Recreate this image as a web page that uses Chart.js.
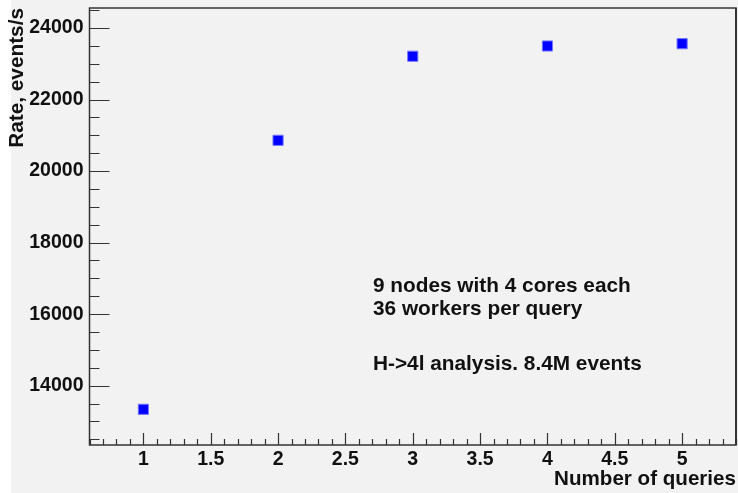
<!DOCTYPE html>
<html>
<head>
<meta charset="utf-8">
<script src="https://cdn.jsdelivr.net/npm/chart.js@4"></script>
<style>
    html, body { margin: 0; padding: 0; background: #fff; }
    #wrap { width: 738px; height: 493px; }
</style>
</head>
<body>
<div id="wrap"><canvas id="c"></canvas></div>
<script>

// Data
const queries = [ 1, 2, 3, 4, 5 ];
const rates = [ 13340, 20860, 23210, 23497, 23561 ];

const xTicks = [ 1, 1.5, 2, 2.5, 3, 3.5, 4, 4.5, 5 ];
const yTicks = [ 14000, 16000, 18000, 20000, 22000, 24000 ];

const noteLines = [ '9 nodes with 4 cores each', '36 workers per query', '', 'H->4l analysis. 8.4M events' ];

const FONT = '"Liberation Sans", Arial, sans-serif';

/**
 * Paints the ROOT-like canvas: grey pad, frame, inside tick marks and the text box.
 */
const rootStyle = {
    id: 'rootStyle',
    beforeDraw ( chart ) {

        const { ctx, width, height } = chart;

        ctx.save();
        ctx.fillStyle = '#ffffff';
        ctx.fillRect( 0, 0, width, height );
        ctx.fillStyle = '#f2f2f2';
        ctx.fillRect( 11, 0, width - 11, height );
        ctx.restore();

    },
    afterDraw ( chart ) {

        const { ctx, chartArea: a, scales: { x, y } } = chart;

        ctx.save();

        // frame
        ctx.strokeStyle = '#333';
        ctx.lineWidth = 1.5;
        ctx.strokeRect( a.left, a.top, a.right - a.left, a.bottom - a.top );
        ctx.lineWidth = 2;
        ctx.beginPath();
        ctx.moveTo( a.right, a.top );
        ctx.lineTo( a.right, a.bottom );
        ctx.stroke();

        // inside ticks, y: every 500, major every 2000
        ctx.lineWidth = 1.2;
        ctx.beginPath();
        for ( let v = 12500; v <= 24500; v += 500 ) {
            const py = Math.round( y.getPixelForValue( v ) ) + 0.5;
            const len = v % 2000 === 0 ? 20 : 10;
            ctx.moveTo( a.left, py );
            ctx.lineTo( a.left + len, py );
        }

        // inside ticks, x: every 0.1, major every 0.5
        for ( let i = 6; i <= 54; ++i ) {
            const px = Math.round( x.getPixelForValue( i / 10 ) ) + 0.5;
            const len = i % 5 === 0 ? 12 : 6;
            ctx.moveTo( px, a.bottom );
            ctx.lineTo( px, a.bottom - len );
        }
        ctx.stroke();

        // text box
        ctx.fillStyle = '#111';
        ctx.font = 'bold 20.8px ' + FONT;
        ctx.textAlign = 'left';
        ctx.textBaseline = 'alphabetic';
        noteLines.forEach( ( l, i ) => {
            const py = i < 2 ? 292 + i * 23 : 370;
            if ( l ) ctx.fillText( l, 373, py );
        } );

        ctx.restore();

    }
};

new Chart( document.getElementById( 'c' ).getContext( '2d' ), {
    type: 'scatter',
    data: {
        datasets: [ {
            data: queries.map( ( q, i ) => ( { x: q, y: rates[ i ] } ) ),
            pointStyle: 'rect',
            pointRadius: 7.2,
            pointHoverRadius: 7.2,
            backgroundColor: '#0000ff',
            borderColor: '#7777ff',
            borderWidth: 1
        } ]
    },
    options: {
        responsive: true,
        maintainAspectRatio: false,
        animation: false,
        events: [],
        layout: { autoPadding: false, padding: { left: 0, top: 8, right: 2, bottom: 0 } },
        plugins: {
            legend: { display: false },
            tooltip: { enabled: false }
        },
        scales: {
            x: {
                type: 'linear',
                min: 0.6,
                max: 5.4,
                afterBuildTicks: s => { s.ticks = xTicks.map( v => ( { value: v } ) ); },
                afterFit: s => { s.height = 48; s.paddingLeft = 0; s.paddingRight = 0; },
                grid: { display: false, drawTicks: false },
                border: { display: false },
                ticks: {
                    padding: 3,
                    color: '#111',
                    maxRotation: 0,
                    autoSkip: false,
                    callback: v => String( v ),
                    font: { family: FONT, size: 19.5, weight: 'bold' }
                },
                title: {
                    display: true,
                    text: 'Number of queries',
                    align: 'end',
                    color: '#111',
                    padding: { top: 0, bottom: 1 },
                    font: { family: FONT, size: 20.6, weight: 'bold' }
                }
            },
            y: {
                type: 'linear',
                min: 12342,
                max: 24559,
                afterBuildTicks: s => { s.ticks = yTicks.map( v => ( { value: v } ) ); },
                afterFit: s => { s.width = 89.5; s.paddingTop = 0; s.paddingBottom = 0; },
                grid: { display: false, drawTicks: false },
                border: { display: false },
                ticks: {
                    padding: 6,
                    color: '#111',
                    autoSkip: false,
                    callback: v => String( v ),
                    font: { family: FONT, size: 19.5, weight: 'bold' }
                },
                title: {
                    display: true,
                    text: 'Rate, events/s',
                    align: 'end',
                    color: '#111',
                    padding: { top: 5, bottom: 0 },
                    font: { family: FONT, size: 20.8, weight: 'bold' }
                }
            }
        }
    },
    plugins: [ rootStyle ]
} );

</script>
</body>
</html>
